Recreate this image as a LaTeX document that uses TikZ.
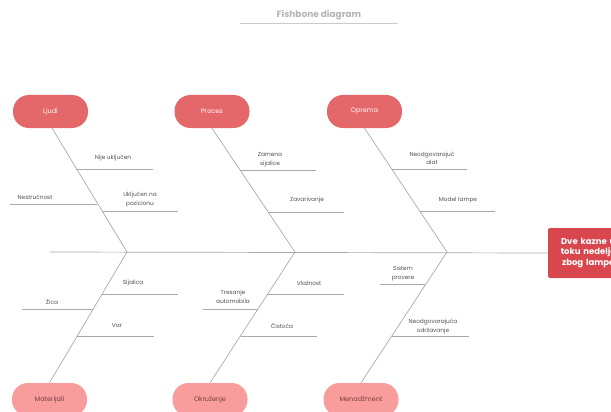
\documentclass[tikz,border=0pt]{standalone}
\usepackage{fontspec}
\setmainfont{Poppins}
\definecolor{topc}{HTML}{E46769}
\definecolor{botc}{HTML}{F99C9C}
\definecolor{effc}{HTML}{D9474E}
\definecolor{bonec}{HTML}{A9A9A9}
\definecolor{txtc}{HTML}{505050}
\definecolor{titlec}{HTML}{B4B4B4}
\tikzset{
  pilltop/.style={fill=topc, draw=none, rounded corners=16pt, minimum width=75pt, minimum height=33pt, text=white, font=\fontsize{6.5}{8}\selectfont, inner sep=0pt},
  pillbot/.style={fill=botc, draw=none, rounded corners=16pt, minimum width=75pt, minimum height=33pt, text=txtc!80!red, font=\fontsize{6.5}{8}\selectfont, inner sep=0pt},
  boneline/.style={draw=bonec, line width=0.7pt},
  lbl/.style={font=\fontsize{5.8}{8.5}\selectfont, text=txtc, align=center, inner sep=0pt},
}
\begin{document}
\begin{tikzpicture}[x=1pt,y=-1pt]
\useasboundingbox (0,0) rectangle (611,412);
\clip (0,0) rectangle (611,412);
% title
\node[font=\fontsize{9}{10}\selectfont\bfseries, text=titlec] (title) at (319,15) {Fishbone diagram};
\coordinate (tl) at (240,23);
\coordinate (tr) at (398,23);
\draw[draw=titlec!70, line width=0.6pt] (tl) -- (tr);
% head boxes
\node[pilltop] (ljudi) at (50.5,111.5) {Ljudi};
\node[pilltop] (proces) at (212,111.5) {Proces};
\node[pilltop] (oprema) at (364.5,111.5) {Oprema};
\node[pillbot] (mat) at (49.5,399.5) {Materijali};
\node[pillbot] (okr) at (210,399.5) {Okruženje};
\node[pillbot] (men) at (361,399.5) {Menadžment};
% effect
\node[fill=effc, draw=none, rounded corners=1.5pt, anchor=west, minimum width=80pt, minimum height=50pt, text width=76pt, align=center, text=white, font=\fontsize{8.5}{10.5}\selectfont\bfseries, inner sep=0pt] (eff) at (548,253) {Dve kazne u\\toku nedelje\\zbog lampe};
% spine
\coordinate (tail) at (50,252);
\coordinate (jL) at (127,252);
\coordinate (jP) at (295,252);
\coordinate (jO) at (447,252);
\draw[boneline] (tail) -- (eff.west);
% main bones
\draw[boneline] ([xshift=1.5pt]ljudi.south) -- (jL);
\draw[boneline] (proces.south) -- (jP);
\draw[boneline] (oprema.south) -- (jO);
\draw[boneline] (mat.north) -- (jL);
\draw[boneline] (okr.north) -- (jP);
\draw[boneline] (men.north) -- (jO);
% Ljudi
\coordinate (l1a) at (76,169); \coordinate (l1b) at (153,169);
\coordinate (l2a) at (10,204); \coordinate (l2b) at (97,204);
\coordinate (l3a) at (102,211); \coordinate (l3b) at (178,211);
\draw[boneline] (l1a) -- (l1b);
\draw[boneline] (l2a) -- (l2b);
\draw[boneline] (l3a) -- (l3b);
\node[lbl] (t1) at (113,158.5) {Nije uključen};
\node[lbl] (t2) at (35,197.5) {Nestručnost};
\node[lbl] (t3) at (140,199.5) {Uključen na\\pozicionu};
% Proces
\coordinate (p1a) at (240,170); \coordinate (p1b) at (316,170);
\coordinate (p2a) at (268,212); \coordinate (p2b) at (344,212);
\draw[boneline] (p1a) -- (p1b);
\draw[boneline] (p2a) -- (p2b);
\node[lbl] (t4) at (270,159.5) {Zamena\\sijalice};
\node[lbl] (t5) at (307,200) {Zavarivanje};
% Oprema
\coordinate (o1a) at (392,169); \coordinate (o1b) at (467,169);
\coordinate (o2a) at (420,211); \coordinate (o2b) at (495,211);
\draw[boneline] (o1a) -- (o1b);
\draw[boneline] (o2a) -- (o2b);
\node[lbl] (t6) at (432,158.5) {Neodgovarajuć\\alat};
\node[lbl] (t7) at (458,200.5) {Model lampe};
% Materijali
\coordinate (m1a) at (102,294); \coordinate (m1b) at (178,294);
\coordinate (m2a) at (22,309); \coordinate (m2b) at (93,309);
\coordinate (m3a) at (77,336); \coordinate (m3b) at (154,336);
\draw[boneline] (m1a) -- (m1b);
\draw[boneline] (m2a) -- (m2b);
\draw[boneline] (m3a) -- (m3b);
\node[lbl] (t8) at (133,283) {Sijalica};
\node[lbl] (t9) at (52,301.5) {Žica};
\node[lbl] (t10) at (117,326) {Var};
% Okruzenje
\coordinate (k1a) at (268,294); \coordinate (k1b) at (344,294);
\coordinate (k2a) at (203,309); \coordinate (k2b) at (258,309);
\coordinate (k3a) at (241,336); \coordinate (k3b) at (317,336);
\draw[boneline] (k1a) -- (k1b);
\draw[boneline] (k2a) -- (k2b);
\draw[boneline] (k3a) -- (k3b);
\node[lbl] (t11) at (309,283.5) {Vlažnost};
\node[lbl] (t12) at (233,297) {Tresanje\\automobila};
\node[lbl] (t13) at (282,326) {Čistoća};
% Menadzment
\coordinate (n1a) at (380,284); \coordinate (n1b) at (426,284);
\coordinate (n2a) at (392,336); \coordinate (n2b) at (469,336);
\draw[boneline] (n1a) -- (n1b);
\draw[boneline] (n2a) -- (n2b);
\node[lbl] (t14) at (403,273.5) {Sistem\\provere};
\node[lbl] (t15) at (433,326.5) {Neodgovarajuća\\održavanje};
\end{tikzpicture}
\end{document}
